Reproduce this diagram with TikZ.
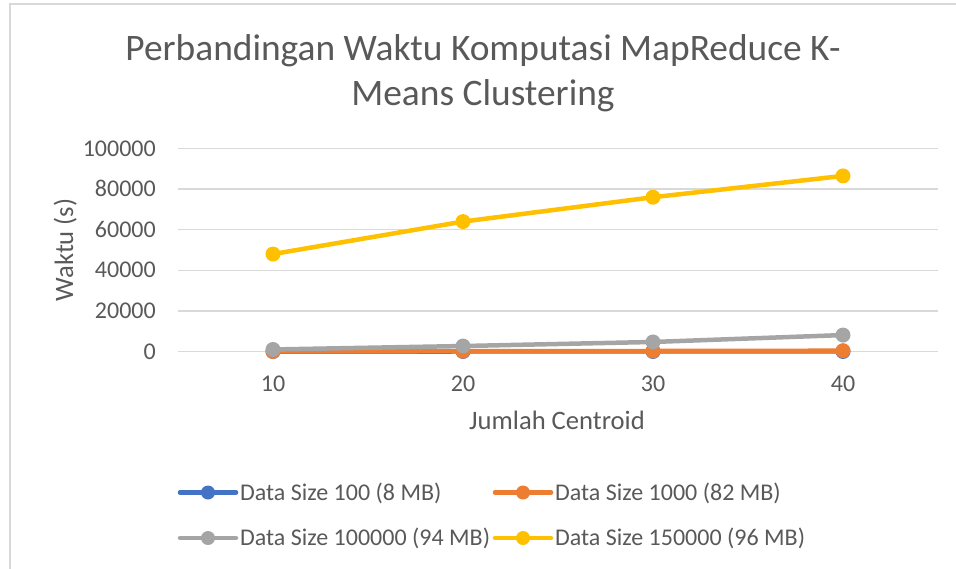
\documentclass[tikz,border=0pt]{standalone}
\usepackage{fontspec}
\setmainfont{Carlito}
\usetikzlibrary{calc}
\definecolor{txtgray}{HTML}{595959}
\definecolor{gridgray}{HTML}{D9D9D9}
\definecolor{frame}{HTML}{D9D9D9}
\definecolor{sblue}{HTML}{4472C4}
\definecolor{sorange}{HTML}{ED7D31}
\definecolor{sgray}{HTML}{A5A5A5}
\definecolor{syellow}{HTML}{FFC000}
\tikzset{
  lbl/.style={text=txtgray, inner sep=0pt, font=\fontsize{24}{28}\selectfont},
  axtitle/.style={text=txtgray, inner sep=0pt, font=\fontsize{26.6}{30}\selectfont},
  charttitle/.style={text=txtgray, inner sep=0pt, font=\fontsize{37.4}{44}\selectfont},
  gridline/.style={draw=gridgray, line width=1.5pt},
  serie/.style={line width=4.5pt, line cap=round, line join=round},
  legline/.style={line width=4.5pt, line cap=round},
}
\begin{document}
\begin{tikzpicture}[x=1pt, y=-1pt]
\useasboundingbox (0,0) rectangle (956,568);
% chart frame
\draw[frame, line width=2pt] (10,4) rectangle (975,590);

% title
\node[charttitle, anchor=base] (title1) at (483,60) {Perbandingan Waktu Komputasi MapReduce K-};
\node[charttitle, anchor=base] (title2) at (483,105) {Means Clustering};

% horizontal gridlines and value labels (values in thousands for the y position)
\foreach \t/\lab [count=\k] in {0/0,20/20000,40/40000,60/60000,80/80000,100/100000} {
  \draw[gridline] (178,{351.5-2.03*\t}) -- (938,{351.5-2.03*\t});
  \node[lbl, anchor=base east] (ytick\k) at (156,{351.5-2.03*\t+7.5}) {\lab};
}

% category labels
\foreach \c [count=\k] in {10,20,30,40} {
  \node[lbl, anchor=base] (xtick\k) at ({273+190*(\k-1)},391) {\c};
}

% axis titles
\node[axtitle, anchor=base] (xtitle) at (557,429) {Jumlah Centroid};
\node[axtitle, anchor=base, rotate=90] (ytitle) at (73,250) {Waktu (s)};

% data series (values in thousands of seconds)
\foreach \col/\a/\b/\c/\d in {sblue/0.002/0.003/0.005/0.008, sorange/0.05/0.15/0.25/0.4, sgray/1.0/2.7/4.7/8.1, syellow/48/64/76/86.5} {
  \draw[serie, \col] (273,{351.5-2.03*\a}) -- (463,{351.5-2.03*\b})
     -- (653,{351.5-2.03*\c}) -- (843,{351.5-2.03*\d});
  \foreach \xx/\v in {273/\a,463/\b,653/\c,843/\d}
    \fill[\col] (\xx,{351.5-2.03*\v}) circle (7.5pt);
}

% legend
\foreach \col/\lx/\ly/\txt [count=\k] in {
  sblue/180/492.5/{Data Size 100 (8 MB)},
  sorange/495/492.5/{Data Size 1000 (82 MB)},
  sgray/180/538/{Data Size 100000 (94 MB)},
  syellow/495/538/{Data Size 150000 (96 MB)}} {
  \coordinate (legA\k) at (\lx,\ly);
  \coordinate (legB\k) at (\lx+56,\ly);
  \draw[legline, \col] (legA\k) -- (legB\k);
  \fill[\col] ($(legA\k)!0.5!(legB\k)$) circle (7pt);
  \node[lbl, anchor=base west] (legtxt\k) at (\lx+60,\ly+7.5) {\txt};
}
\end{tikzpicture}
\end{document}
